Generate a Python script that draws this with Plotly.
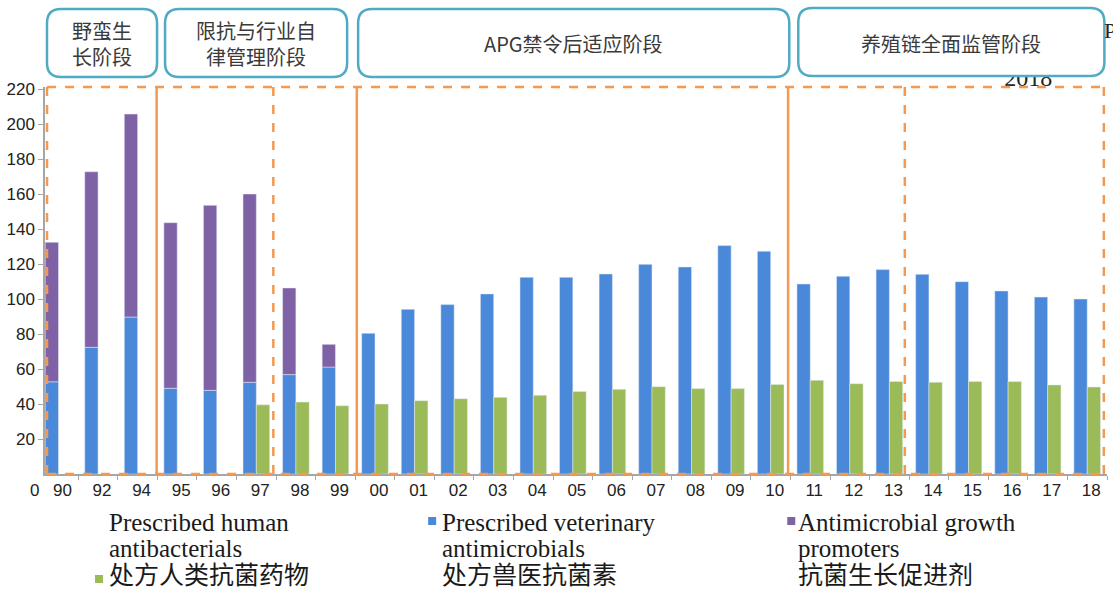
import plotly.graph_objects as go

# ---------------- data ----------------
categories = ["90", "92", "94", "95", "96", "97", "98", "99", "00", "01", "02", "03", "04",
              "05", "06", "07", "08", "09", "10", "11", "12", "13", "14", "15", "16", "17", "18"]
human = [None, None, None, None, None, 39.5, 41.1, 39.0, 40.0, 41.9, 43.0, 43.8, 45.0,
         47.2, 48.4, 49.9, 48.8, 48.8, 51.2, 53.5, 51.6, 52.8, 52.4, 52.8, 52.8, 50.9, 49.7]
veterinary = [52.7, 72.4, 89.7, 49.0, 47.8, 52.4, 56.8, 61.1, 80.4, 94.1, 96.8, 102.9, 112.4,
              112.4, 114.3, 119.8, 118.3, 130.5, 127.3, 108.6, 113.0, 116.8, 114.1, 109.9, 104.6, 101.1, 100.0]
promoters = [79.7, 100.3, 116.0, 94.6, 105.7, 107.6, 49.5, 13.0] + [None] * 19
y_ticks = [20, 40, 60, 80, 100, 120, 140, 160, 180, 200, 220]

stage_titles = ["野蛮生<br>长阶段", "限抗与行业自<br>律管理阶段", "APG禁令后适应阶段", "养殖链全面监管阶段"]
legend_en = [["Prescribed human", "antibacterials"], ["Prescribed veterinary", "antimicrobials"],
             ["Antimicrobial growth", "promoters"]]
legend_zh = ["处方人类抗菌药物", "处方兽医抗菌素", "抗菌生长促进剂"]

# ---------------- styling ----------------
BLUE = "#4A89D9"
PURPLE = "#7F62A6"
GREEN = "#9BBB59"
ORANGE = "#F4994F"
TEAL = "#4FAAC4"
CJK = "Noto Sans CJK SC"
SERIF = "Liberation Serif"
SANS = "Liberation Sans"

FW, FH = 1113, 590
L, R, T, B = 45, 6.4, 0, 116
W = FW - L - R
H = FH - T - B          # paper height (474 px)
PLOT_TOP = 87           # top of the bar plotting area, px from top
MAIN_TOP = (H - PLOT_TOP) / H


def px(x):
    return (x - L) / W


def py(y):
    return (FH - B - y) / H


def rrect(x0, y0, x1, y1, r):
    X0, X1 = px(x0), px(x1)
    Yt, Yb = py(y0), py(y1)
    rx, ry = r / W, r / H
    return (f"M {X0+rx},{Yt} L {X1-rx},{Yt} Q {X1},{Yt} {X1},{Yt-ry} "
            f"L {X1},{Yb+ry} Q {X1},{Yb} {X1-rx},{Yb} L {X0+rx},{Yb} "
            f"Q {X0},{Yb} {X0},{Yb+ry} L {X0},{Yt-ry} Q {X0},{Yt} {X0+rx},{Yt} Z")


fig = go.Figure()

fig.add_trace(go.Bar(x=categories, y=veterinary, marker_color=BLUE, offsetgroup="a",
                     name="Prescribed veterinary antimicrobials", showlegend=False))
fig.add_trace(go.Bar(x=categories, y=promoters, base=veterinary, marker_color=PURPLE, offsetgroup="a",
                     name="Antimicrobial growth promoters", showlegend=False))
fig.add_trace(go.Bar(x=categories, y=human, marker_color=GREEN, offsetgroup="b",
                     name="Prescribed human antibacterials", showlegend=False))

# partially hidden "2018" artefact above the plot (in a helper subplot, covered by the stage box)
fig.add_trace(go.Scatter(x=[1028], y=[80], mode="text", text=["2018"], textposition="middle center",
                         textfont=dict(family=SERIF, size=24, color="#222"),
                         xaxis="x2", yaxis="y2", cliponaxis=False,
                         showlegend=False, hoverinfo="skip"))

shapes = []
# orange stage frames
for yv in (0, 1):
    shapes.append(dict(type="line", xref="x", yref="y domain", x0=-0.29, x1=26.42, y0=yv, y1=yv,
                       line=dict(color=ORANGE, width=2.5, dash="dash"), layer="above"))
for xv, dash in [(-0.29, "dash"), (2.48, "solid"), (5.43, "dash"), (7.54, "solid"),
                 (18.44, "solid"), (21.39, "dash"), (26.42, "dash")]:
    shapes.append(dict(type="line", xref="x", yref="y domain", x0=xv, x1=xv, y0=0, y1=1,
                       line=dict(color=ORANGE, width=2.5, dash=dash), layer="above"))

# stage title boxes
boxes = [(47, 9, 157, 77), (165, 9, 347, 77), (358, 9, 789, 77), (798, 8, 1104, 76)]
for (x0, y0, x1, y1) in boxes:
    shapes.append(dict(type="path", xref="paper", yref="paper", path=rrect(x0, y0, x1, y1, 14),
                       fillcolor="white", line=dict(color=TEAL, width=2.5), layer="above"))

# legend squares
legend_sq = [((95, 575, 103, 583), GREEN), ((428, 517, 436, 525), BLUE), ((787, 517, 795, 525), PURPLE)]
for (x0, y0, x1, y1), c in legend_sq:
    shapes.append(dict(type="rect", xref="paper", yref="paper", x0=px(x0), x1=px(x1),
                       y0=py(y1), y1=py(y0), fillcolor=c, line=dict(width=0), layer="above"))

annotations = []
# stage box texts
box_centers = [102, 256, 573, 951]
for title, cx in zip(stage_titles, box_centers):
    annotations.append(dict(x=px(cx), y=py(44), xref="paper", yref="paper", text=title,
                            showarrow=False, xanchor="center", yanchor="middle", borderpad=0,
                            font=dict(family=CJK, size=20, color="#3A3A3A")))

# edge artefact "P"
annotations.append(dict(x=px(1103), y=py(30), xref="paper", yref="paper", text="P",
                        showarrow=False, xanchor="left", yanchor="middle", borderpad=0,
                        font=dict(family=SERIF, size=22, color="#222")))

# "0" label
annotations.append(dict(x=px(35), y=py(490), xref="paper", yref="paper", text="0",
                        showarrow=False, xanchor="center", yanchor="middle",
                        font=dict(family=SANS, size=17, color="#222")))

# legend texts
legend_x = [108, 441, 797]
for i in range(3):
    for t, yy in zip(legend_en[i], [522, 548]):
        annotations.append(dict(x=px(legend_x[i]), y=py(yy), xref="paper", yref="paper", text=t,
                                showarrow=False, xanchor="left", yanchor="middle", borderpad=0,
                                font=dict(family=SERIF, size=25, color="#1A1A1A")))
    annotations.append(dict(x=px(legend_x[i]), y=py(573), xref="paper", yref="paper", text=legend_zh[i],
                            showarrow=False, xanchor="left", yanchor="middle", borderpad=0,
                            font=dict(family=CJK, size=25, color="#1A1A1A")))

fig.update_layout(
    width=FW, height=FH,
    margin=dict(l=L, r=R, t=T, b=B, pad=0, autoexpand=False),
    paper_bgcolor="white", plot_bgcolor="white",
    barmode="group", bargap=0.327, bargroupgap=0,
    showlegend=False,
    shapes=shapes, annotations=annotations,
    xaxis=dict(type="category", categoryorder="array", categoryarray=categories,
               range=[-0.341, 26.5], showline=True, linecolor="#A6A6A6", linewidth=1.5,
               ticks="outside", ticklen=4, tickcolor="#A6A6A6", tickson="boundaries",
               ticklabelshift=4, showgrid=False, zeroline=False, automargin=False,
               tickfont=dict(family=SANS, size=17, color="#222")),
    yaxis=dict(domain=[0, MAIN_TOP], range=[0, 221.14], tickvals=y_ticks, showline=True,
               linecolor="#A6A6A6", linewidth=1.5, ticks="outside", ticklen=5, tickcolor="#A6A6A6",
               showgrid=False, zeroline=False, automargin=False,
               tickfont=dict(family=SANS, size=17, color="#222")),
    xaxis2=dict(domain=[0, 1], range=[L, FW - R], anchor="y2", visible=False, fixedrange=True),
    yaxis2=dict(domain=[MAIN_TOP, 1], range=[PLOT_TOP, 0], anchor="x2", visible=False, fixedrange=True),
)

fig.write_html("out.html")
